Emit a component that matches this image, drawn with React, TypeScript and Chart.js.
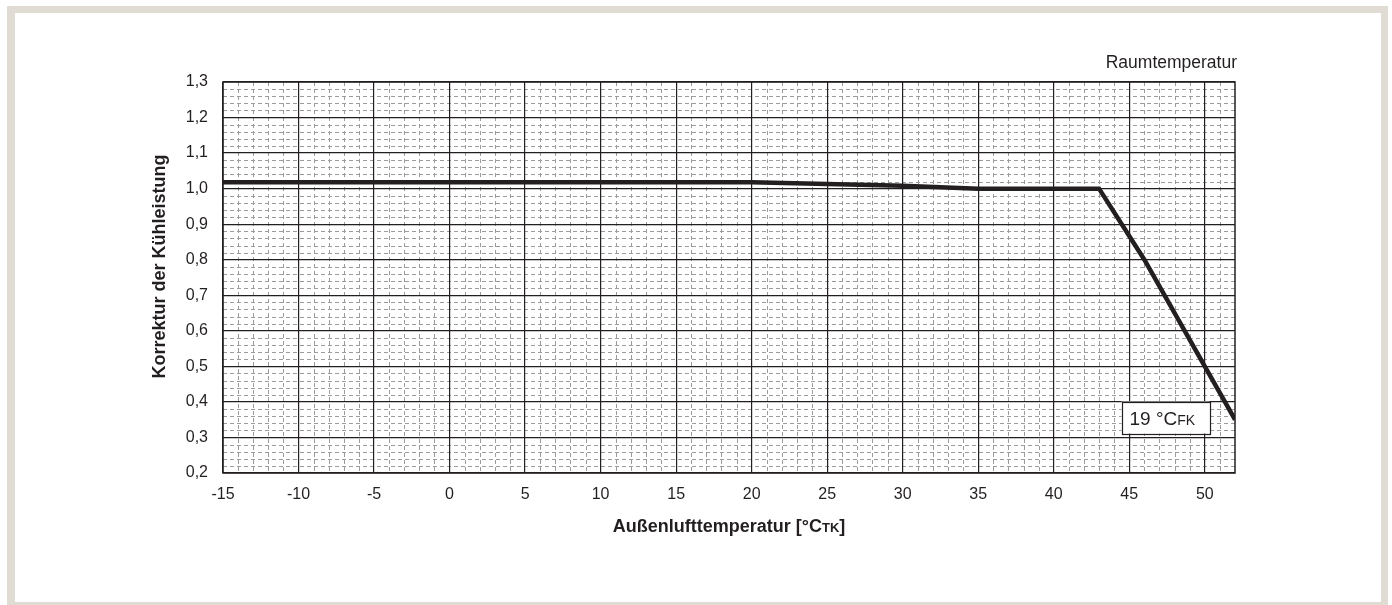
import React, { useEffect, useRef } from "react";
import { Chart, registerables } from "chart.js";

Chart.register(...registerables);

// ---- data ----
const temps: number[] = [-15, 20, 25, 30, 35, 43, 46, 50, 52];
const factors: number[] = [1.018, 1.018, 1.013, 1.008, 1.0, 1.0, 0.8, 0.5, 0.35];

const xTicks: number[] = [-15, -10, -5, 0, 5, 10, 15, 20, 25, 30, 35, 40, 45, 50];
const yTicks: number[] = [0.2, 0.3, 0.4, 0.5, 0.6, 0.7, 0.8, 0.9, 1.0, 1.1, 1.2, 1.3];
const xMin = -15;
const xMax = 52;
const yMin = 0.2;
const yMax = 1.3;
const xMinorStep = 1;
const yMinorStep = 0.02;

const xTitleMain = "Außenlufttemperatur [°C";
const xTitleSub = "TK";
const xTitleEnd = "]";
const yTitle = "Korrektur der Kühleistung";
const topLabel = "Raumtemperatur";
const curveLabelMain = "19 °C";
const curveLabelSub = "FK";
const curveLabelAt = { x: 47.4, y: 0.356 };

const DARK = "#231f20";
const FONT = "'Liberation Sans', Arial, Helvetica, sans-serif";
const NARROW = "'Liberation Sans Narrow', 'Arial Narrow', 'Liberation Sans', Arial, sans-serif";

type Part = { text: string; font: string };

function drawParts(ctx: CanvasRenderingContext2D, parts: Part[], x: number, y: number, align: "left" | "center" | "right") {
  let total = 0;
  const widths = parts.map((p) => {
    ctx.font = p.font;
    const w = ctx.measureText(p.text).width;
    total += w;
    return w;
  });
  let cx = x;
  if (align === "center") cx = x - total / 2;
  if (align === "right") cx = x - total;
  ctx.textAlign = "left";
  ctx.textBaseline = "alphabetic";
  parts.forEach((p, i) => {
    ctx.font = p.font;
    ctx.fillText(p.text, cx, y);
    cx += widths[i];
  });
  return total;
}

const decorPlugin = {
  id: "decor",
  beforeDraw(chart: any) {
    const { ctx, chartArea, scales } = chart;
    const xs = scales.x;
    const ys = scales.y;
    ctx.save();
    ctx.fillStyle = "#ffffff";
    ctx.fillRect(chartArea.left, chartArea.top, chartArea.right - chartArea.left, chartArea.bottom - chartArea.top);
    ctx.beginPath();
    ctx.rect(chartArea.left, chartArea.top, chartArea.right - chartArea.left, chartArea.bottom - chartArea.top);
    ctx.clip();
    ctx.strokeStyle = "#9c9c9c";
    ctx.lineWidth = 1;
    ctx.setLineDash([4, 3]);
    for (let i = 0; xMin + i * xMinorStep <= xMax + 1e-9; i++) {
      const v = xMin + i * xMinorStep;
      if (Math.abs(v / 5 - Math.round(v / 5)) < 1e-9) continue;
      const px = Math.round(xs.getPixelForValue(v)) + 0.5;
      ctx.beginPath();
      ctx.moveTo(px, chartArea.top);
      ctx.lineTo(px, chartArea.bottom);
      ctx.stroke();
    }
    for (let i = 0; yMin + i * yMinorStep <= yMax + 1e-9; i++) {
      const v = yMin + i * yMinorStep;
      if (Math.abs(v * 10 - Math.round(v * 10)) < 1e-6) continue;
      const py = Math.round(ys.getPixelForValue(v)) + 0.5;
      ctx.beginPath();
      ctx.moveTo(chartArea.left, py);
      ctx.lineTo(chartArea.right, py);
      ctx.stroke();
    }
    ctx.restore();
  },
  beforeDatasetsDraw(chart: any) {
    const { ctx, chartArea } = chart;
    ctx.save();
    ctx.strokeStyle = DARK;
    ctx.lineWidth = 1.5;
    ctx.strokeRect(chartArea.left, chartArea.top, chartArea.right - chartArea.left, chartArea.bottom - chartArea.top);
    ctx.restore();
  },
  afterDatasetsDraw(chart: any) {
    const { ctx, chartArea, scales } = chart;
    const xs = scales.x;
    const ys = scales.y;
    ctx.save();
    ctx.fillStyle = DARK;

    // top-right label
    drawParts(ctx, [{ text: topLabel, font: `17.5px ${FONT}` }], chartArea.right + 2, chartArea.top - 14, "right");

    // x title
    drawParts(
      ctx,
      [
        { text: xTitleMain, font: `bold 18px ${FONT}` },
        { text: xTitleSub, font: `bold 13px ${FONT}` },
        { text: xTitleEnd, font: `bold 18px ${FONT}` },
      ],
      (chartArea.left + chartArea.right) / 2,
      chartArea.bottom + 59,
      "center"
    );

    // y title
    ctx.save();
    ctx.translate(165, (chartArea.top + chartArea.bottom) / 2 - 11);
    ctx.rotate(-Math.PI / 2);
    drawParts(ctx, [{ text: yTitle, font: `bold 18px ${FONT}` }], 0, 0, "center");
    ctx.restore();

    // curve label box
    const cx = xs.getPixelForValue(curveLabelAt.x);
    const cy = ys.getPixelForValue(curveLabelAt.y);
    const bw = 88;
    const bh = 32;
    ctx.fillStyle = "#ffffff";
    ctx.fillRect(cx - bw / 2, cy - bh / 2, bw, bh);
    ctx.strokeStyle = DARK;
    ctx.lineWidth = 1.2;
    ctx.strokeRect(Math.round(cx - bw / 2) + 0.5, Math.round(cy - bh / 2) + 0.5, bw, bh);
    ctx.fillStyle = DARK;
    drawParts(
      ctx,
      [
        { text: curveLabelMain, font: `19px ${FONT}` },
        { text: curveLabelSub, font: `14px ${FONT}` },
      ],
      cx - bw / 2 + 8,
      cy + 7,
      "left"
    );
    ctx.restore();
  },
};

export default function App() {
  const canvasRef = useRef<HTMLCanvasElement | null>(null);

  useEffect(() => {
    const canvas = canvasRef.current;
    if (!canvas) return;
    const chart = new Chart(canvas, {
      type: "line",
      data: {
        datasets: [
          {
            data: temps.map((t, i) => ({ x: t, y: factors[i] })),
            borderColor: DARK,
            borderWidth: 4.5,
            pointRadius: 0,
            tension: 0,
            fill: false,
          },
        ],
      },
      options: {
        animation: false,
        responsive: false,
        devicePixelRatio: 1,
        layout: { padding: { left: 0, top: 82, right: 157, bottom: 0 } },
        plugins: { legend: { display: false }, tooltip: { enabled: false } },
        scales: {
          x: {
            type: "linear",
            min: xMin,
            max: xMax,
            afterBuildTicks: (scale: any) => {
              scale.ticks = xTicks.map((v) => ({ value: v }));
            },
            afterFit: (scale: any) => {
              scale.height = 132;
            },
            ticks: {
              color: DARK,
              font: { family: NARROW, size: 16 },
              padding: 12,
              maxRotation: 0,
              autoSkip: false,
              callback: (v: any) => String(v),
            },
            grid: { color: DARK, lineWidth: 1.2, drawTicks: false },
            border: { display: false },
          },
          y: {
            type: "linear",
            min: yMin,
            max: yMax,
            afterBuildTicks: (scale: any) => {
              scale.ticks = yTicks.map((v) => ({ value: v }));
            },
            afterFit: (scale: any) => {
              scale.width = 223;
            },
            ticks: {
              color: DARK,
              font: { family: NARROW, size: 16 },
              padding: 15,
              autoSkip: false,
              callback: (v: any) => Number(v).toFixed(1).replace(".", ","),
            },
            grid: { color: DARK, lineWidth: 1.2, drawTicks: false },
            border: { display: false },
          },
        },
      },
      plugins: [decorPlugin],
    } as any);
    return () => chart.destroy();
  }, []);

  return (
    <div style={{ position: "fixed", left: 0, top: 0, width: 1392, height: 605, background: "#ffffff", overflow: "hidden" }}>
      <div
        style={{
          position: "absolute",
          left: 7,
          top: 6,
          width: 1381,
          height: 603,
          boxSizing: "border-box",
          borderStyle: "solid",
          borderColor: "#e0dbd3",
          borderWidth: "7px 7px 7px 8px",
        }}
      />
      <canvas ref={canvasRef} width={1392} height={605} style={{ position: "absolute", left: 0, top: 0, width: 1392, height: 605 }} />
    </div>
  );
}
